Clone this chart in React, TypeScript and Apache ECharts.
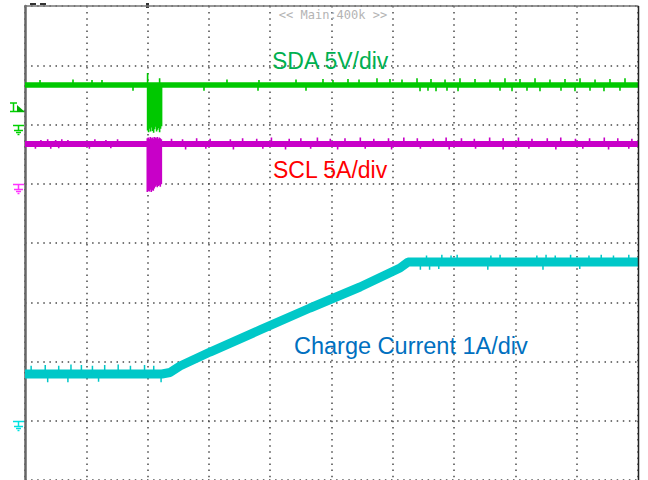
import React, { useEffect, useRef } from "react";
import * as echarts from "echarts";

// Screen in divisions: 10 horizontal, 8 vertical
const xDivisions = { min: 0, max: 10 };
const yDivisions = { min: 0, max: 8 };

// SDA (green) trace, in divisions
const sdaX = [0, 10];
const sdaY = [6.667, 6.667];
const sdaBurstX = [2.0, 2.016, 2.033, 2.049, 2.065, 2.082, 2.098, 2.114, 2.131, 2.147, 2.163, 2.18, 2.196, 2.212, 2.228];
const sdaBurstTop = [6.87, 6.667, 6.667, 6.667, 6.667, 6.667, 6.667, 6.667, 6.667, 6.667, 6.667, 6.667, 6.78, 6.667, 6.667];
const sdaBurstLow = [5.9, 5.87, 5.93, 5.88, 5.95, 5.89, 5.86, 5.92, 5.96, 5.88, 5.91, 5.94, 5.87, 5.93, 5.97];
const sdaSpikeUpX = [0.245, 0.783, 1.093, 1.256, 3.295, 3.817, 4.421, 4.861, 5.024, 5.269, 5.449, 5.742, 5.954, 6.15, 6.395, 6.623, 6.852, 7.096, 7.341, 7.586, 7.83, 8.075, 8.32, 8.564, 8.809, 9.054, 9.299, 9.543, 9.788];
const sdaSpikeUpY = [6.75, 6.76, 6.75, 6.75, 6.76, 6.75, 6.76, 6.77, 6.75, 6.77, 6.76, 6.78, 6.77, 6.76, 6.78, 6.77, 6.76, 6.78, 6.77, 6.76, 6.78, 6.77, 6.78, 6.76, 6.77, 6.78, 6.76, 6.77, 6.78];
const sdaSpikeDownX = [1.762, 2.92, 3.801, 4.584, 6.444, 6.574, 6.705, 6.884, 7.064, 7.749, 7.945, 8.189, 8.401, 8.744, 8.972, 9.217, 9.445, 9.706];
const sdaSpikeDownY = [6.57, 6.57, 6.57, 6.57, 6.56, 6.57, 6.56, 6.57, 6.56, 6.57, 6.56, 6.57, 6.56, 6.57, 6.56, 6.57, 6.56, 6.57];

// SCL (magenta) trace
const sclX = [0, 10];
const sclY = [5.671, 5.671];
const sclBurstX = [1.995, 2.011, 2.028, 2.044, 2.06, 2.077, 2.093, 2.109, 2.126, 2.142, 2.158, 2.175, 2.191, 2.207, 2.224];
const sclBurstTop = [5.77, 5.78, 5.76, 5.79, 5.77, 5.78, 5.76, 5.79, 5.78, 5.77, 5.79, 5.76, 5.78, 5.77, 5.75];
const sclBurstLow = [4.86, 4.88, 4.87, 4.9, 4.86, 4.89, 4.88, 4.92, 4.95, 4.97, 4.94, 4.96, 4.98, 4.95, 4.99];
const sclSpikeUpX = [0.26, 0.37, 0.5, 0.6, 0.7, 1.14, 1.32, 1.51, 2.39, 2.57, 2.8, 3.02, 3.35, 3.55, 3.78, 4.02, 4.31, 4.5, 4.77, 4.98, 5.22, 5.47, 5.69, 5.93, 6.18, 6.4, 6.66, 6.87, 7.12, 7.33, 7.58, 7.8, 8.05, 8.27, 8.52, 8.74, 8.98, 9.21, 9.45, 9.67, 9.9];
const sclSpikeUpY = [5.74, 5.75, 5.74, 5.75, 5.74, 5.75, 5.74, 5.75, 5.76, 5.75, 5.77, 5.76, 5.75, 5.77, 5.76, 5.78, 5.76, 5.77, 5.78, 5.76, 5.77, 5.78, 5.76, 5.77, 5.78, 5.77, 5.76, 5.78, 5.77, 5.76, 5.78, 5.77, 5.78, 5.76, 5.77, 5.78, 5.76, 5.77, 5.78, 5.77, 5.76];
const sclSpikeDownX = [0.17, 0.42, 0.55, 1.05, 1.4, 2.62, 2.95, 3.4, 3.88, 4.25, 4.66, 5.1, 5.55, 5.98, 6.45, 6.92, 7.35, 7.8, 8.22, 8.66, 9.1, 9.52, 9.85];
const sclSpikeDownY = [5.59, 5.59, 5.6, 5.59, 5.6, 5.58, 5.59, 5.58, 5.59, 5.58, 5.59, 5.58, 5.59, 5.58, 5.59, 5.58, 5.59, 5.58, 5.59, 5.58, 5.59, 5.58, 5.59];

// Charge current (cyan) trace
const curX = [0, 2.235, 2.365, 2.529, 3.018, 3.834, 4.65, 5.465, 6.117, 6.248, 10];
const curY = [1.789, 1.789, 1.814, 1.924, 2.16, 2.532, 2.903, 3.257, 3.578, 3.679, 3.679];
const curSpikeUpX = [0.1, 0.33, 0.55, 0.75, 0.92, 1.1, 1.3, 1.52, 1.72, 1.95, 2.1, 6.55, 6.8, 6.95, 7.05, 7.6, 7.75, 8.35, 8.5, 8.65, 8.9, 9.2, 9.4, 9.6, 9.85];
const curSpikeUpY = [1.93, 1.94, 1.93, 1.95, 1.94, 1.93, 1.94, 1.95, 1.93, 1.94, 1.93, 3.79, 3.8, 3.79, 3.8, 3.79, 3.8, 3.79, 3.8, 3.79, 3.8, 3.79, 3.8, 3.79, 3.8];
const curSpikeDownX = [0.37, 0.7, 1.2, 2.22, 6.45, 6.6, 6.75, 7.55, 8.45, 9.05];
const curSpikeDownY = [1.65, 1.65, 1.66, 1.65, 3.55, 3.55, 3.56, 3.55, 3.55, 3.56];

// Channel ground reference levels (divisions) and trigger level
const groundLevels = [6, 5, 1];
const triggerLevel = 6.25;

const labels = ["SDA 5V/div", "SCL 5A/div", "Charge Current 1A/div"];
const topText = "<< Main:400k >>";

const GRID = { left: 25, top: 6, width: 613, height: 474 };

function pair(xs: number[], ys: number[]) {
  return xs.map((x, i) => [x, ys[i]]);
}

function strokes(xs: number[], tops: number[] | number, lows: number[]) {
  const out: any[] = [];
  xs.forEach((x, i) => {
    const t = Array.isArray(tops) ? tops[i] : tops;
    out.push([x, t], [x, lows[i]], [x, "-"]);
  });
  return out;
}

function yPix(div: number) {
  return GRID.top + ((yDivisions.max - div) / (yDivisions.max - yDivisions.min)) * GRID.height;
}

function groundMarker(div: number, color: string) {
  const y = Math.round(yPix(div)) + 0.5;
  const ln = (x1: number, y1: number, x2: number, y2: number) => ({
    type: "line",
    shape: { x1, y1, x2, y2 },
    style: { stroke: color, lineWidth: 1.5 },
  });
  return {
    type: "group",
    children: [
      ln(13, y, 24, y),
      ln(18.5, y, 18.5, y + 5),
      ln(14, y + 5, 23, y + 5),
      ln(16, y + 7, 21, y + 7),
      ln(17.5, y + 9, 19.5, y + 9),
    ],
  };
}

export default function App() {
  const ref = useRef<HTMLDivElement>(null);
  useEffect(() => {
    if (!ref.current) return;
    const chart = echarts.init(ref.current, undefined, { renderer: "svg" });
    const dotted = { color: "#4a4a4a", width: 1.5, type: [1.5, 4.6] as any };
    const ty = Math.round(yPix(triggerLevel));
    chart.setOption({
      animation: false,
      backgroundColor: "#ffffff",
      grid: { left: GRID.left, top: GRID.top, width: GRID.width, height: GRID.height },
      xAxis: {
        type: "value",
        min: xDivisions.min,
        max: xDivisions.max,
        interval: 1,
        position: "top",
        axisLine: { show: true, onZero: false, lineStyle: { color: "#777", width: 1.5 } },
        axisTick: { show: false },
        axisLabel: { show: false },
        splitLine: { show: true, lineStyle: dotted },
      },
      yAxis: {
        type: "value",
        min: yDivisions.min,
        max: yDivisions.max,
        interval: 1,
        axisLine: { show: true, onZero: false, lineStyle: { color: "#666", width: 2.5 } },
        axisTick: { show: false },
        axisLabel: { show: false },
        splitLine: { show: true, lineStyle: dotted },
      },
      series: [
        {
          name: "Charge Current",
          type: "line",
          data: pair(curX, curY),
          showSymbol: false,
          lineStyle: { color: "#00c8c8", width: 9 },
          z: 2,
        },
        {
          name: "Charge Current noise",
          type: "line",
          data: [
            ...strokes(curSpikeUpX, curSpikeUpX.map((x) => (x < 5 ? 1.789 : 3.679)), curSpikeUpY),
            ...strokes(curSpikeDownX, curSpikeDownX.map((x) => (x < 5 ? 1.789 : 3.679)), curSpikeDownY),
          ],
          showSymbol: false,
          connectNulls: false,
          lineStyle: { color: "#00c8c8", width: 1.5 },
          z: 2,
        },
        {
          name: "SCL",
          type: "line",
          data: pair(sclX, sclY),
          showSymbol: false,
          lineStyle: { color: "#c800c8", width: 6 },
          z: 3,
        },
        {
          name: "SCL detail",
          type: "line",
          data: [
            ...strokes(sclBurstX, sclBurstTop, sclBurstLow),
            ...strokes(sclSpikeUpX, sclY[0], sclSpikeUpY),
            ...strokes(sclSpikeDownX, sclY[0], sclSpikeDownY),
          ],
          showSymbol: false,
          connectNulls: false,
          lineStyle: { color: "#c800c8", width: 1.6 },
          z: 3,
        },
        {
          name: "SDA",
          type: "line",
          data: pair(sdaX, sdaY),
          showSymbol: false,
          lineStyle: { color: "#00c800", width: 5.5 },
          z: 4,
        },
        {
          name: "SDA detail",
          type: "line",
          data: [
            ...strokes(sdaBurstX, sdaBurstTop, sdaBurstLow),
            ...strokes(sdaSpikeUpX, sdaY[0], sdaSpikeUpY),
            ...strokes(sdaSpikeDownX, sdaY[0], sdaSpikeDownY),
          ],
          showSymbol: false,
          connectNulls: false,
          lineStyle: { color: "#00c800", width: 1.6 },
          z: 4,
        },
      ],
      graphic: [
        {
          type: "line",
          shape: { x1: 638.5, y1: 6, x2: 638.5, y2: 480 },
          style: { stroke: "#222", lineWidth: 1.5 },
          z: 10,
        },
        { type: "rect", shape: { x: 30, y: 3, width: 6, height: 2 }, style: { fill: "#333" } },
        { type: "rect", shape: { x: 40, y: 3, width: 6, height: 2 }, style: { fill: "#333" } },
        { type: "rect", shape: { x: 146, y: 3, width: 3, height: 5 }, style: { fill: "#333" } },
        {
          type: "text",
          style: {
            x: 333,
            y: 15,
            text: topText,
            font: "12px 'DejaVu Sans Mono', monospace",
            fill: "#b4b4b4",
            align: "center",
            verticalAlign: "middle",
          },
          z: 10,
        },
        {
          type: "text",
          style: {
            x: 272,
            y: 61,
            text: labels[0],
            font: "23px 'Liberation Sans', Arial, sans-serif",
            fill: "#00b050",
            verticalAlign: "middle",
          },
          z: 10,
        },
        {
          type: "text",
          style: {
            x: 273,
            y: 169.5,
            text: labels[1],
            font: "23px 'Liberation Sans', Arial, sans-serif",
            fill: "#ff0000",
            verticalAlign: "middle",
          },
          z: 10,
        },
        {
          type: "text",
          style: {
            x: 294,
            y: 346,
            text: labels[2],
            font: "23.5px 'Liberation Sans', Arial, sans-serif",
            fill: "#0070c0",
            verticalAlign: "middle",
          },
          z: 10,
        },
        // trigger marker
        {
          type: "group",
          children: [
            { type: "line", shape: { x1: 10, y1: ty - 7, x2: 17, y2: ty - 7 }, style: { stroke: "#00d000", lineWidth: 1.5 } },
            { type: "line", shape: { x1: 13.5, y1: ty - 7, x2: 13.5, y2: ty + 1 }, style: { stroke: "#00d000", lineWidth: 1.5 } },
            { type: "line", shape: { x1: 10, y1: ty + 1.5, x2: 25, y2: ty + 1.5 }, style: { stroke: "#00d000", lineWidth: 1.5 } },
            { type: "polygon", shape: { points: [[17, ty - 5], [25, ty + 2], [17, ty + 2]] }, style: { fill: "#00b000" } },
          ],
        },
        groundMarker(groundLevels[0], "#00d000"),
        groundMarker(groundLevels[1], "#ff33ff"),
        groundMarker(groundLevels[2], "#00e0e0"),
      ],
    });
    return () => chart.dispose();
  }, []);
  return (
    <div
      ref={ref}
      style={{ position: "absolute", left: 0, top: 0, width: 648, height: 480, background: "#fff" }}
    />
  );
}
